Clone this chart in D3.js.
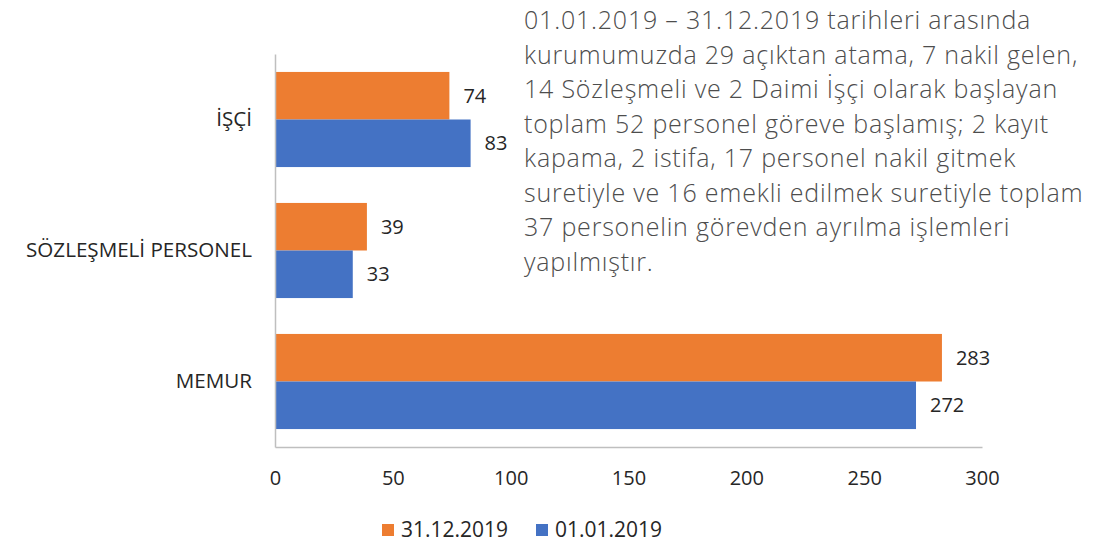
<!DOCTYPE html>
<html>
<head>
<meta charset="utf-8">
<script src="https://cdn.jsdelivr.net/npm/d3@7"></script>
<style>
    body { margin: 0; background: #fff; }
    svg text { font-family: "Open Sans", sans-serif; }
</style>
</head>
<body>
<div id="chart"></div>
<script>
// data
const categories = ["İŞÇİ", "SÖZLEŞMELİ PERSONEL", "MEMUR"];
const seriesNames = ["31.12.2019", "01.01.2019"];
const endOfYear = [74, 39, 283];    // 31.12.2019
const startOfYear = [83, 33, 272];  // 01.01.2019
const xTicks = [0, 50, 100, 150, 200, 250, 300];
const seriesColors = ["#ED7D31", "#4472C4"];

const noteLines = [
    "01.01.2019 – 31.12.2019 tarihleri arasında",
    "kurumumuzda 29 açıktan atama, 7 nakil gelen,",
    "14 Sözleşmeli ve 2 Daimi İşçi olarak başlayan",
    "toplam 52 personel göreve başlamış; 2 kayıt",
    "kapama, 2 istifa, 17 personel nakil gitmek",
    "suretiyle ve 16 emekli edilmek suretiyle toplam",
    "37 personelin görevden ayrılma işlemleri",
    "yapılmıştır."
];

const width = 1116, height = 545;
const margin = {top: 54, left: 275, right: 134, bottom: 98};

const svg = d3.select("#chart").append("svg")
    .attr("width", width)
    .attr("height", height);

const x = d3.scaleLinear()
    .domain([0, 300])
    .range([margin.left, width - margin.right]);

const y = d3.scaleBand()
    .domain(categories)
    .range([margin.top, height - margin.bottom])
    .paddingInner(0.274)
    .paddingOuter(0.137);

const ySub = d3.scaleBand()
    .domain(seriesNames)
    .range([0, y.bandwidth()]);

// rows: one entry per category
const rows = categories.map((c, i) => ({
    cat: c,
    values: [
        {name: seriesNames[0], value: endOfYear[i]},
        {name: seriesNames[1], value: startOfYear[i]}
    ]
}));

const color = d3.scaleOrdinal().domain(seriesNames).range(seriesColors);

// bars
const groups = svg.selectAll(".grp")
    .data(rows)
    .enter().append("g")
    .attr("class", "grp")
    .attr("transform", d => `translate(0, ${y(d.cat)})`);

groups.selectAll("rect")
    .data(d => d.values)
    .enter().append("rect")
    .attr("x", x(0))
    .attr("y", d => ySub(d.name))
    .attr("width", d => x(d.value) - x(0))
    .attr("height", ySub.bandwidth())
    .attr("fill", d => color(d.name));

groups.selectAll(".val")
    .data(d => d.values)
    .enter().append("text")
    .attr("class", "val")
    .attr("x", d => x(d.value) + 14)
    .attr("y", d => ySub(d.name) + ySub.bandwidth() / 2)
    .attr("dy", "0.35em")
    .attr("font-size", 20)
    .attr("fill", "#262626")
    .text(d => d.value);

// axes
const xAxis = d3.axisBottom(x).tickValues(xTicks).tickSize(0).tickPadding(24);
const xg = svg.append("g")
    .attr("transform", `translate(0, ${height - margin.bottom})`)
    .call(xAxis);
xg.select(".domain").attr("stroke", "#BFBFBF").attr("stroke-width", 1.5);
xg.selectAll("text").attr("font-size", 20).attr("fill", "#262626")
    .style("font-family", '"Open Sans", sans-serif');

const yAxis = d3.axisLeft(y).tickSize(0).tickPadding(23);
const yg = svg.append("g")
    .attr("transform", `translate(${margin.left}, 0)`)
    .call(yAxis);
yg.select(".domain").attr("stroke", "#BFBFBF").attr("stroke-width", 1.5);
yg.selectAll("text").attr("font-size", 20.6).attr("fill", "#262626")
    .style("font-family", '"Open Sans", sans-serif');

// legend
const legend = svg.append("g").attr("transform", "translate(382, 530)");
const legendX = [0, 154];
seriesNames.forEach((s, i) => {
    const g = legend.append("g").attr("transform", `translate(${legendX[i]}, 0)`);
    g.append("rect").attr("x", 0).attr("y", -6).attr("width", 12).attr("height", 12)
        .attr("fill", color(s));
    g.append("text").attr("x", 19).attr("dy", "0.35em")
        .attr("font-size", 21).attr("fill", "#262626").text(s);
});

// note text
const note = svg.append("text")
    .attr("x", 524)
    .attr("y", 29)
    .attr("font-size", 25)
    .attr("font-weight", 300)
    .attr("letter-spacing", 0.8)
    .attr("fill", "#4d4d4d")
    .style("font-family", '"Open Sans", sans-serif');

note.selectAll("tspan")
    .data(noteLines)
    .enter().append("tspan")
    .attr("x", 524)
    .attr("dy", (d, i) => i === 0 ? 0 : 34.5)
    .text(d => d);
</script>
</body>
</html>
